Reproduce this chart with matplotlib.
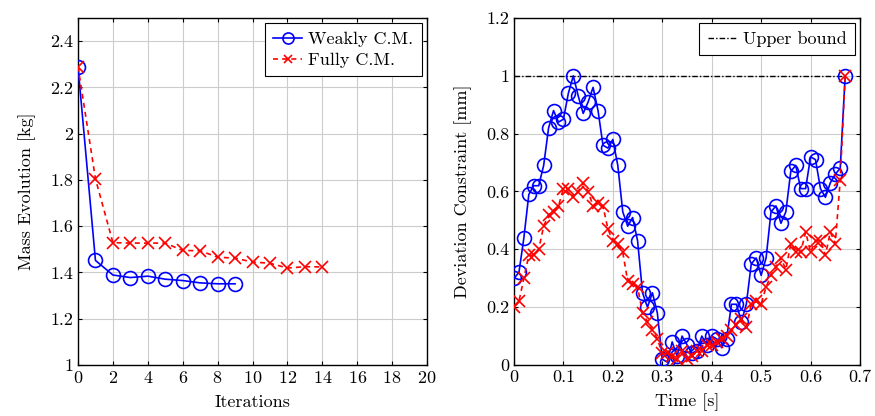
import matplotlib
matplotlib.use("Agg")
import matplotlib.pyplot as plt
from matplotlib.ticker import MultipleLocator, FormatStrFormatter

plt.rcParams["font.family"] = "serif"
plt.rcParams["font.serif"] = ["cmr10"]
plt.rcParams["mathtext.fontset"] = "cm"
plt.rcParams["axes.formatter.use_mathtext"] = True

# left panel: mass per iteration
iters_weak = list(range(10))
mass_weak = [2.29, 1.452, 1.389, 1.378, 1.384, 1.371, 1.365, 1.355, 1.351, 1.351]
iters_full = list(range(15))
mass_full = [2.29, 1.805, 1.529, 1.527, 1.527, 1.527, 1.495, 1.494, 1.466, 1.462,
             1.445, 1.440, 1.419, 1.425, 1.424]

# right panel: deviation constraint over time
time_s = [round(0.01 * i, 2) for i in range(68)]
dev_weak = [0.30, 0.32, 0.44, 0.59, 0.62, 0.62, 0.69, 0.82, 0.88, 0.84,
            0.85, 0.94, 1.00, 0.93, 0.87, 0.91, 0.96, 0.88, 0.76, 0.75,
            0.78, 0.69, 0.53, 0.48, 0.51, 0.43, 0.25, 0.20, 0.25, 0.18,
            0.02, 0.01, 0.08, 0.03, 0.10, 0.07, 0.04, 0.05, 0.10, 0.07,
            0.10, 0.09, 0.06, 0.09, 0.21, 0.21, 0.15, 0.21, 0.35, 0.37,
            0.31, 0.37, 0.53, 0.55, 0.49, 0.53, 0.67, 0.69, 0.61, 0.61,
            0.72, 0.71, 0.61, 0.58, 0.63, 0.66, 0.68, 1.00]
dev_full = [0.20, 0.22, 0.30, 0.38, 0.38, 0.40, 0.48, 0.52, 0.53, 0.55,
            0.61, 0.61, 0.58, 0.60, 0.63, 0.60, 0.55, 0.56, 0.55, 0.47,
            0.43, 0.42, 0.39, 0.29, 0.28, 0.27, 0.18, 0.15, 0.12, 0.09,
            0.04, 0.04, 0.03, 0.02, 0.05, 0.02, 0.03, 0.05, 0.05, 0.07,
            0.07, 0.08, 0.09, 0.10, 0.12, 0.14, 0.16, 0.13, 0.21, 0.22,
            0.21, 0.27, 0.31, 0.34, 0.37, 0.33, 0.42, 0.39, 0.39, 0.46,
            0.39, 0.43, 0.43, 0.38, 0.46, 0.42, 0.64, 1.00]
upper_bound = 1.0

fig = plt.figure(figsize=(8.75, 4.16), dpi=100)
ax1 = fig.add_axes([78 / 875, 1 - 365 / 416, 349 / 875, 347 / 416])
ax2 = fig.add_axes([514 / 875, 1 - 365 / 416, 346 / 875, 347 / 416])

fs = 13
leg_kw = dict(loc="upper right", fontsize=fs, fancybox=False, edgecolor="black",
              framealpha=1, handlelength=1.6, handletextpad=0.35, borderaxespad=0.3,
              borderpad=0.45, labelspacing=0.3)

ax1.plot(iters_weak, mass_weak, color="blue", lw=1.2, marker="o", ms=10,
         mfc="none", mew=1.2, label="Weakly C.M.", zorder=3)
ax1.plot(iters_full, mass_full, color="red", lw=1.2, ls=(0, (3, 2.5)), marker="x",
         ms=8, mew=1.2, label="Fully C.M.", zorder=3)
ax1.set_xlim(0, 20)
ax1.set_ylim(1, 2.5)
ax1.xaxis.set_major_locator(MultipleLocator(2))
ax1.yaxis.set_major_locator(MultipleLocator(0.2))
ax1.yaxis.set_major_formatter(FormatStrFormatter("%g"))
ax1.set_xlabel("Iterations", fontsize=fs, labelpad=6)
ax1.set_ylabel("Mass Evolution [kg]", fontsize=fs, labelpad=10)
leg1 = ax1.legend(markerscale=0.8, **leg_kw)
leg1.get_frame().set_linewidth(0.8)

ax2.plot([0, time_s[-1]], [upper_bound, upper_bound], color="black", lw=1.0,
         ls=(0, (4, 1.5, 1, 1.5)), label="Upper bound", zorder=2)
ax2.plot(time_s, dev_weak, color="blue", lw=1.2, marker="o", ms=10,
         mfc="none", mew=1.2, zorder=3)
ax2.plot(time_s, dev_full, color="red", lw=1.2, ls=(0, (3, 2.5)), marker="x",
         ms=8, mew=1.2, zorder=3)
ax2.set_xlim(0, 0.7)
ax2.set_ylim(0, 1.2)
ax2.xaxis.set_major_locator(MultipleLocator(0.1))
ax2.yaxis.set_major_locator(MultipleLocator(0.2))
ax2.xaxis.set_major_formatter(FormatStrFormatter("%g"))
ax2.yaxis.set_major_formatter(FormatStrFormatter("%g"))
ax2.set_xlabel("Time [s]", fontsize=fs, labelpad=6)
ax2.set_ylabel("Deviation Constraint [mm]", fontsize=fs, labelpad=10)
leg2 = ax2.legend(**leg_kw)
leg2.get_frame().set_linewidth(0.8)

for ax in (ax1, ax2):
    ax.grid(True, color="#cccccc", lw=0.8)
    ax.set_axisbelow(True)
    ax.tick_params(direction="in", labelsize=fs, length=3, top=True, right=True)
    for sp in ax.spines.values():
        sp.set_linewidth(1.0)

fig.savefig("out.png", dpi=100)
